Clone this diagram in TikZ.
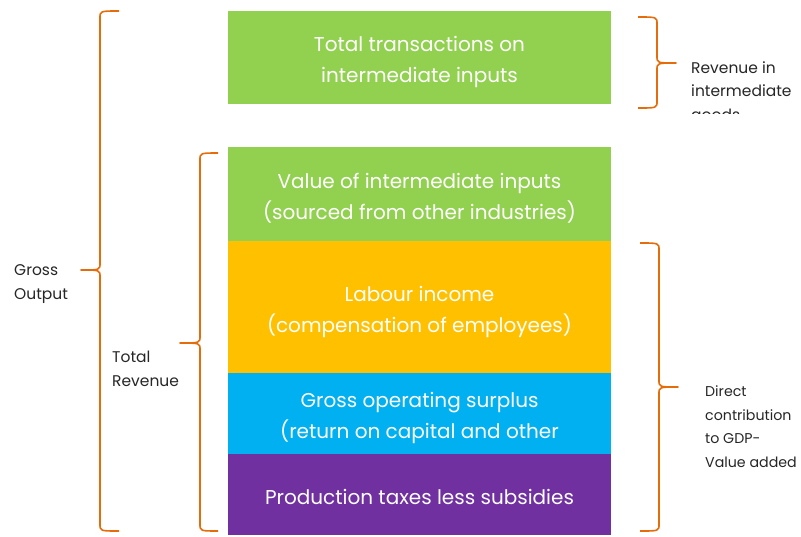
\documentclass[tikz,border=0pt]{standalone}
\usepackage{fontspec}
\setmainfont{Poppins}
\begin{document}
\begin{tikzpicture}[x=1pt,y=-1pt,
  box/.style={draw=none,minimum width=383pt,inner sep=0pt,text=white,
    font=\fontsize{20}{31}\selectfont,align=center},
  lbl/.style={inner sep=0pt,align=left,text=black!85,
    font=\fontsize{15.5}{23.5}\selectfont},
  brace/.style={draw=braceorange,line width=1.6pt,line join=round}]
\definecolor{gGreen}{HTML}{92D050}
\definecolor{gYellow}{HTML}{FFC000}
\definecolor{gBlue}{HTML}{00B0F0}
\definecolor{gPurple}{HTML}{7030A0}
\definecolor{braceorange}{HTML}{E46C0A}
\useasboundingbox (0,0) rectangle (801,536);

% stacked blocks
\node[box,fill=gGreen,minimum height=93pt] (trans) at (419.5,57.5) {};
\node[box,fill=gGreen,minimum height=94pt] (inter) at (419.5,194) {};
\node[box,fill=gYellow,minimum height=132pt] (labour) at (419.5,307) {};
\node[box,fill=gBlue,minimum height=81pt] (gos) at (419.5,413.5) {};
\node[box,fill=gPurple,minimum height=81pt] (taxes) at (419.5,494.5) {};

\node[box,minimum height=0pt] (transT) at (419.5,61.5) {Total transactions on\\intermediate inputs};
\node[box,minimum height=0pt] (interT) at (419.5,198) {Value of intermediate inputs\\(sourced from other industries)};
\node[box,minimum height=0pt] (labourT) at (419.5,311.5) {Labour income\\(compensation of employees)};
\node[box,minimum height=0pt] (gosT) at (419.5,417.5) {Gross operating surplus\\(return on capital and other};
\node[box,minimum height=0pt] (taxesT) at (419.5,497) {Production taxes less subsidies};

% curly braces: end x, spine x, tip x, top y, tip y, bottom y
\newcommand\curlybrace[6]{%
  \draw[brace] (#1,#4) .. controls (#2,#4) .. (#2,#4+7)
    -- (#2,#5-7) .. controls (#2,#5) .. (#3,#5)
    .. controls (#2,#5) .. (#2,#5+7)
    -- (#2,#6-7) .. controls (#2,#6) .. (#1,#6);}
\curlybrace{119}{100}{81}{11}{270}{531}
\curlybrace{218}{200}{180}{153}{343}{531}
\curlybrace{638}{657}{676}{17}{63}{108}
\curlybrace{640}{659}{678}{243}{387}{531}

% side labels (anchored at the baseline of their last line)
\node[lbl,anchor=base west] (gross) at (14,299) {Gross\\Output};
\node[lbl,anchor=base west] (total) at (112,386) {Total\\Revenue};
\begin{scope}
  \clip (680,0) rectangle (801,113);
  \node[lbl,anchor=base west] (revint) at (691,120) {Revenue in\\intermediate\\goods};
\end{scope}
\node[lbl,anchor=base west,font=\fontsize{14.2}{23.5}\selectfont] (direct) at (705,467) {Direct\\contribution\\to GDP-\\Value added};
\end{tikzpicture}
\end{document}
